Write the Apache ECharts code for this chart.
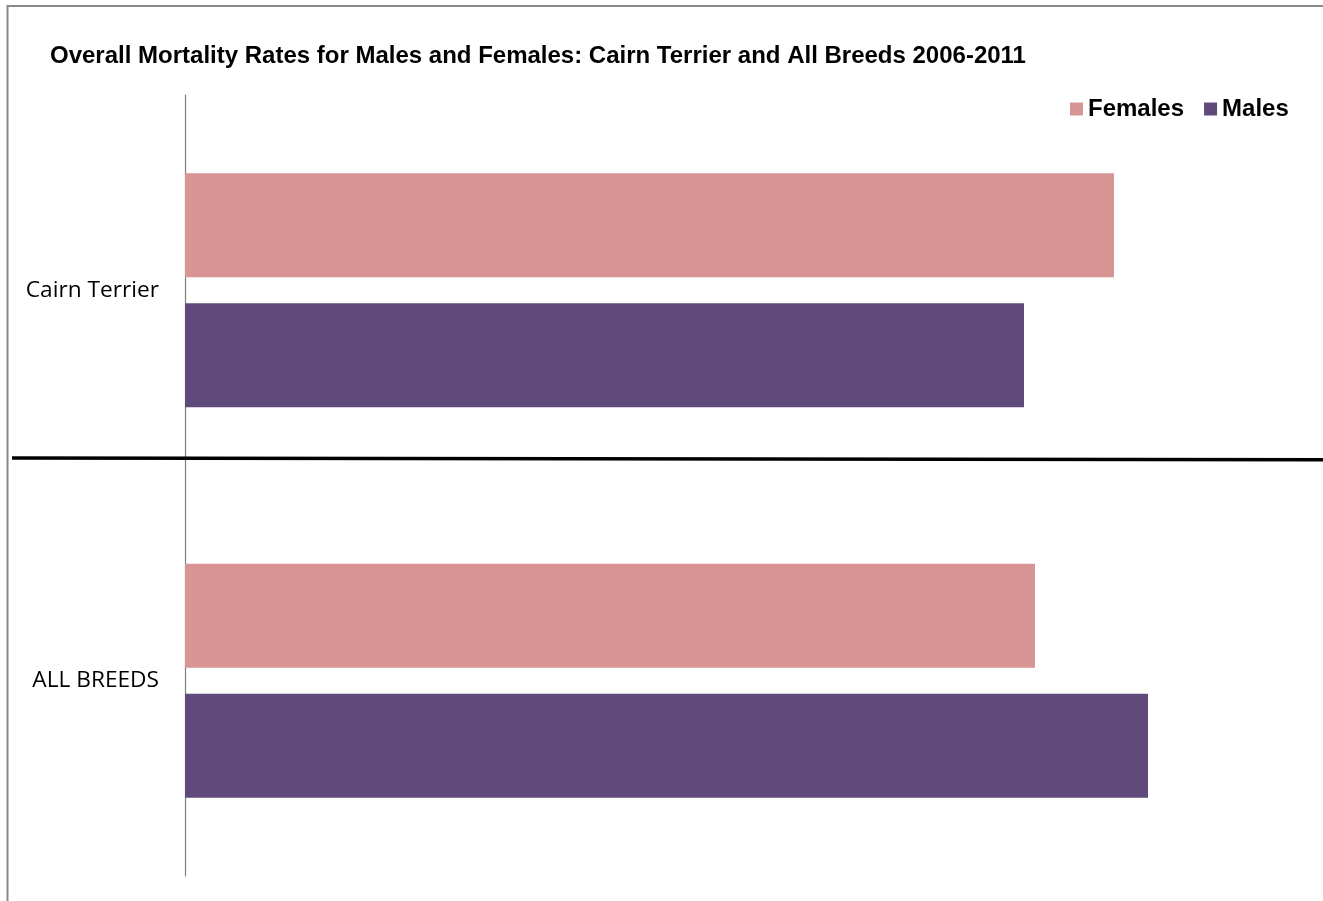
<!DOCTYPE html>
<html>
<head>
<meta charset="utf-8">
<style>
  html, body { margin: 0; padding: 0; background: #ffffff; }
  #chart { width: 1323px; height: 901px; }
</style>
<script src="https://cdn.jsdelivr.net/npm/echarts@6/dist/echarts.min.js"></script>
</head>
<body>
<div id="chart"></div>
<script>
// Data
const categories = ['Cairn Terrier', 'ALL BREEDS'];
const seriesNames = ['Females', 'Males'];
const femalesValues = [92.9, 85.0];
const malesValues = [83.9, 96.3];
const titleText = 'Overall Mortality Rates for Males and Females: Cairn Terrier and All Breeds 2006-2011';

const chart = echarts.init(document.getElementById('chart'), null, { renderer: 'canvas' });

const option = {
  backgroundColor: '#ffffff',
  animation: false,
  title: {
    text: titleText,
    left: 50,
    top: 44,
    padding: 0,
    textStyle: {
      fontFamily: 'Liberation Sans, Arial, sans-serif',
      fontSize: 24,
      fontWeight: 'bold',
      color: '#000000',
      lineHeight: 24
    }
  },
  legend: {
    data: seriesNames,
    left: 1070,
    top: 97,
    padding: 0,
    itemWidth: 13,
    itemHeight: 13,
    itemGap: 20,
    icon: 'rect',
    selectedMode: false,
    textStyle: {
      fontFamily: 'Liberation Sans, Arial, sans-serif',
      fontSize: 24,
      fontWeight: 'bold',
      color: '#000000'
    }
  },
  grid: {
    left: 185,
    top: 95,
    width: 1000,
    height: 781,
    containLabel: false
  },
  xAxis: {
    type: 'value',
    min: 0,
    max: 100,
    show: false,
    splitLine: { show: false }
  },
  yAxis: {
    type: 'category',
    data: categories,
    inverse: true,
    axisLine: { show: true, lineStyle: { color: '#7f7f7f', width: 1.2 } },
    axisTick: { show: false },
    splitLine: { show: false },
    axisLabel: {
      margin: 26,
      fontFamily: 'Open Sans, sans-serif',
      fontSize: 22.7,
      color: '#000000',
      padding: [3, 0, 0, 0]
    }
  },
  series: [
    {
      name: seriesNames[0],
      type: 'bar',
      data: femalesValues,
      barWidth: 104,
      barGap: '25%',
      itemStyle: { color: '#D99594' }
    },
    {
      name: seriesNames[1],
      type: 'bar',
      data: malesValues,
      barWidth: 104,
      barGap: '25%',
      itemStyle: { color: '#604A7B' }
    }
  ],
  graphic: [
    {
      type: 'line',
      z: 100,
      shape: { x1: 7, y1: 6, x2: 1323, y2: 6 },
      style: { stroke: '#8a8a8a', lineWidth: 2 }
    },
    {
      type: 'line',
      z: 100,
      shape: { x1: 7.5, y1: 5, x2: 7.5, y2: 901 },
      style: { stroke: '#8a8a8a', lineWidth: 2 }
    },
    {
      type: 'line',
      z: 100,
      shape: { x1: 12, y1: 458, x2: 1323, y2: 459.7 },
      style: { stroke: '#000000', lineWidth: 3.5 }
    }
  ]
};

chart.setOption(option);
</script>
</body>
</html>
